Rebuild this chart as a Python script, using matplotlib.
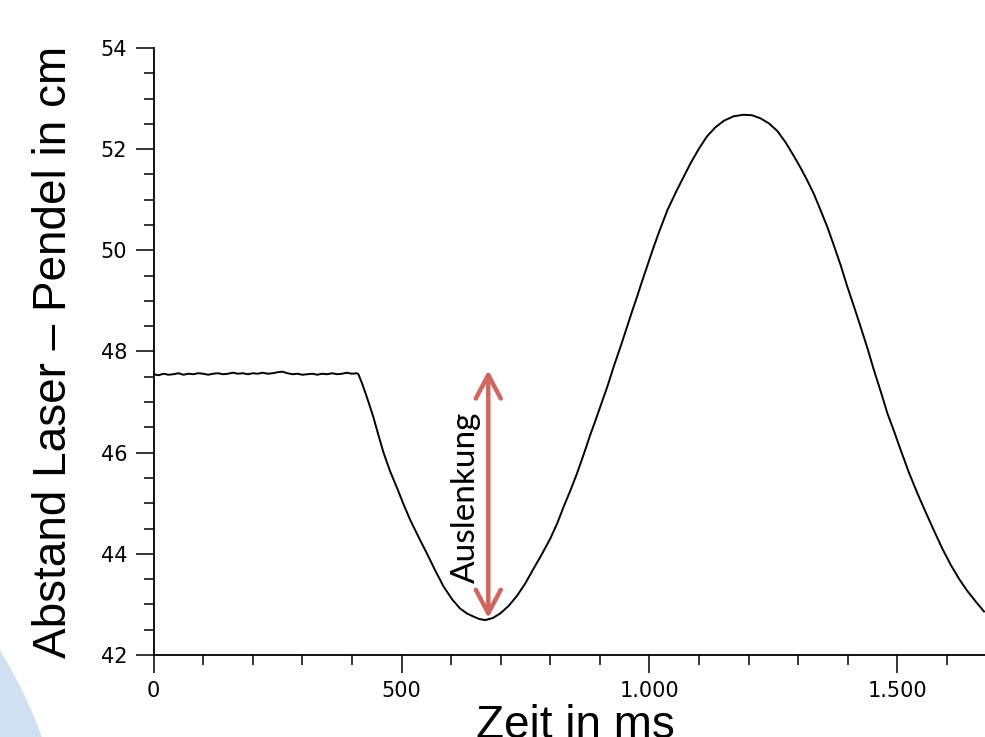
import numpy as np
import matplotlib
matplotlib.use('Agg')
import matplotlib.pyplot as plt
from matplotlib.patches import Circle
from matplotlib.ticker import MultipleLocator

# Ruhelage vor dem Loslassen
ruhe_ms = [0, 10, 20, 30, 40, 50, 60, 70, 80, 90, 100, 110, 120, 130, 140,
           150, 160, 170, 180, 190, 200, 210, 220, 230, 240, 250, 260, 270,
           280, 290, 300, 310, 320, 330, 340, 350, 360, 370, 380, 390, 400, 410]
ruhe_cm = [47.55, 47.53, 47.56, 47.54, 47.55, 47.57, 47.54, 47.56, 47.55,
           47.57, 47.56, 47.54, 47.56, 47.57, 47.55, 47.56, 47.58, 47.56,
           47.57, 47.55, 47.57, 47.56, 47.58, 47.56, 47.57, 47.59, 47.60,
           47.57, 47.55, 47.56, 47.54, 47.55, 47.56, 47.54, 47.56, 47.55,
           47.57, 47.55, 47.56, 47.58, 47.56, 47.57]

# Schwingung nach dem Loslassen
schwing_ms = [413, 420, 430, 443, 453, 464, 477, 491, 504, 518, 535, 551, 568,
              585, 602, 618, 632, 645, 657, 669, 684, 699, 716, 733, 750, 766,
              783, 800, 814, 827, 841, 854, 868, 881, 891, 901, 915, 928, 942,
              955, 965, 975, 985, 995, 1007, 1019, 1037, 1056, 1070, 1083,
              1100, 1116, 1133, 1150, 1170, 1190, 1207, 1224, 1241, 1258,
              1275, 1291, 1305, 1318, 1332, 1345, 1359, 1372, 1386, 1399,
              1413, 1426, 1440, 1453, 1467, 1480, 1494, 1507, 1523, 1540,
              1557, 1574, 1591, 1608, 1625, 1641, 1658, 1675]
schwing_cm = [47.55, 47.38, 47.10, 46.71, 46.36, 45.99, 45.63, 45.30, 44.98,
              44.66, 44.32, 44.01, 43.67, 43.35, 43.10, 42.92, 42.82, 42.76,
              42.71, 42.69, 42.73, 42.82, 42.97, 43.17, 43.42, 43.70, 43.99,
              44.30, 44.60, 44.93, 45.26, 45.59, 45.98, 46.36, 46.63, 46.91,
              47.30, 47.70, 48.10, 48.49, 48.79, 49.08, 49.38, 49.67, 50.02,
              50.35, 50.81, 51.20, 51.47, 51.72, 52.01, 52.25, 52.43, 52.56,
              52.65, 52.68, 52.67, 52.61, 52.51, 52.36, 52.13, 51.87, 51.63,
              51.39, 51.11, 50.80, 50.46, 50.10, 49.70, 49.29, 48.88, 48.49,
              48.06, 47.63, 47.20, 46.78, 46.41, 46.05, 45.62, 45.21, 44.83,
              44.46, 44.10, 43.78, 43.50, 43.27, 43.06, 42.86]

zeit_ms = ruhe_ms + schwing_ms
abstand_cm = ruhe_cm + schwing_cm

x_ticks = [0, 500, 1000, 1500]
x_ticklabels = ['0', '500', '1.000', '1.500']
y_ticks = [42, 44, 46, 48, 50, 52, 54]

auslenkung_x = 675
auslenkung_von = 42.73
auslenkung_bis = 47.63

fig = plt.figure(figsize=(9.85, 7.37), dpi=100)

# hellblaue Folien-Deko unten links
deko = Circle((-4.0, -1.60), 4.70, transform=fig.dpi_scale_trans,
              facecolor='#D0E1F3', edgecolor='none', zorder=-1)
fig.patches.append(deko)

ax = fig.add_axes([0.156, 0.1113, 0.844, 0.8236])
ax.patch.set_alpha(0)

ax.plot(zeit_ms, abstand_cm, color='black', lw=1.4)

ax.set_xlim(0, 1677)
ax.set_ylim(42, 54)
ax.spines['top'].set_visible(False)
ax.spines['right'].set_visible(False)
ax.spines['left'].set_linewidth(1.3)
ax.spines['bottom'].set_linewidth(1.3)

ax.set_xticks(x_ticks)
ax.set_xticklabels(x_ticklabels)
ax.set_yticks(y_ticks)
ax.xaxis.set_minor_locator(MultipleLocator(100))
ax.yaxis.set_minor_locator(MultipleLocator(0.5))
ax.tick_params(which='major', length=13, width=1.1, labelsize=15, pad=6,
               labelcolor='black')
ax.tick_params(which='minor', length=7, width=1.1)
for lab in ax.get_xticklabels() + ax.get_yticklabels():
    lab.set_family('DejaVu Sans')

ax.set_ylabel('Abstand Laser – Pendel in cm', fontsize=33,
              family=['Liberation Sans', 'DejaVu Sans'])
ax.yaxis.set_label_coords(-0.093, 0.5)
ax.set_xlabel('Zeit in ms', fontsize=33, family=['Liberation Sans', 'DejaVu Sans'])
ax.xaxis.set_label_coords(0.507, -0.08)

# Doppelpfeil fuer die Auslenkung
ax.annotate('', xy=(auslenkung_x, auslenkung_bis), xytext=(auslenkung_x, auslenkung_von),
            arrowprops=dict(arrowstyle='<->, head_length=0.85, head_width=0.45',
                            color='#D0675F', lw=3.2, mutation_scale=20,
                            shrinkA=0, shrinkB=0))
ax.text(630, 45.11, 'Auslenkung', rotation=90, ha='center', va='center',
        fontsize=24, family=['Lato', 'DejaVu Sans'], color='black')

fig.savefig('out.png', dpi=100)
